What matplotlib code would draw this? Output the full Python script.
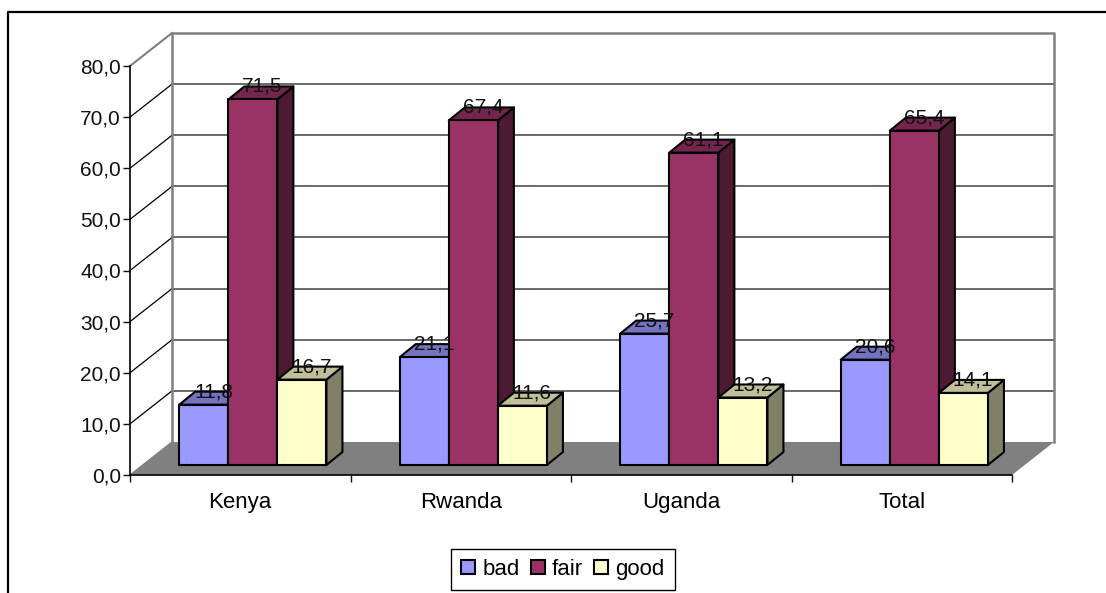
"""Clustered column chart with a hand-built 3D look (Excel style)."""

import matplotlib
matplotlib.use("Agg")
import matplotlib.pyplot as plt
from matplotlib.lines import Line2D
from matplotlib.patches import Patch, Polygon

W, H = 1106, 593
plt.rcParams["font.family"] = ["Liberation Sans", "DejaVu Sans"]

categories = ["Kenya", "Rwanda", "Uganda", "Total"]
bad = [11.8, 21.1, 25.7, 20.6]
fair = [71.5, 67.4, 61.1, 65.4]
good = [16.7, 11.6, 13.2, 14.1]
y_ticks = [0, 10, 20, 30, 40, 50, 60, 70, 80]

# (front, top, side) shades per series
SERIES = [
    ("bad", bad, "#9999ff", "#7373bf", "#5c5c99"),
    ("fair", fair, "#993366", "#73264d", "#4d1a33"),
    ("good", good, "#ffffcc", "#bfbf99", "#808066"),
]

# plot box of the front plane, in pixels
LEFT, RIGHT, TOP, BOTTOM = 130, 1012, 66, 475
PX = 4 / (RIGHT - LEFT)      # x data units per pixel
PY = 80 / (BOTTOM - TOP)     # y data units per pixel

WALL = (42 * PX, 33 * PY)    # offset of the back wall
FRONT = (12.5 * PX, 10 * PY) # offset of the bar front faces
DEPTH = (16 * PX, 13 * PY)   # depth of a bar
BAR_W = 0.2225
FONT = 15


def poly(ax, pts, face, edge="black", lw=1.5, z=2):
    ax.add_patch(Polygon(pts, closed=True, facecolor=face, edgecolor=edge,
                         linewidth=lw, joinstyle="round", zorder=z, clip_on=False))


def draw_walls(ax):
    wx, wy = WALL
    poly(ax, [(0, 0), (4, 0), (4 + wx, wy), (wx, wy)], "#808080", edge="none", z=1)
    for v in y_ticks[1:-1]:
        ax.plot([wx, 4 + wx], [v + wy, v + wy], color="#404040", lw=1.1, zorder=1, clip_on=False)
        ax.plot([0, wx], [v, v + wy], color="black", lw=0.9, zorder=1, clip_on=False)
    ax.plot([0, wx], [0, wy], color="#808080", lw=1, zorder=1, clip_on=False)
    ax.plot([0, wx], [80, 80 + wy], color="#808080", lw=1.5, zorder=1, clip_on=False)
    ax.plot([wx, wx, 4 + wx, 4 + wx], [wy, 80 + wy, 80 + wy, wy],
            color="#808080", lw=1.8, zorder=1, clip_on=False)


def draw_bar(ax, x, value, front, top, side):
    x0 = x + FRONT[0]
    x1 = x0 + BAR_W
    y0 = FRONT[1]
    y1 = value + FRONT[1]
    dx, dy = DEPTH
    poly(ax, [(x1, y0), (x1 + dx, y0 + dy), (x1 + dx, y1 + dy), (x1, y1)], side)
    poly(ax, [(x0, y1), (x1, y1), (x1 + dx, y1 + dy), (x0 + dx, y1 + dy)], top)
    poly(ax, [(x0, y0), (x1, y0), (x1, y1), (x0, y1)], front)
    ax.text((x0 + x1) / 2 + dx * 0.6, y1 + dy, f"{value:.1f}".replace(".", ","),
            ha="center", va="center", fontsize=FONT, color="#111111", zorder=5)


def main():
    fig = plt.figure(figsize=(W / 100, H / 100), dpi=100)
    ax = fig.add_axes([LEFT / W, 1 - BOTTOM / H, (RIGHT - LEFT) / W, (BOTTOM - TOP) / H])
    ax.set_xlim(0, 4)
    ax.set_ylim(0, 80)
    ax.patch.set_visible(False)
    for s in ("top", "right"):
        ax.spines[s].set_visible(False)
    for s in ("left", "bottom"):
        ax.spines[s].set_linewidth(1.2)
        ax.spines[s].set_zorder(3)

    draw_walls(ax)
    for i in range(len(categories)):
        x = i + 1 / 6
        for j, (_, vals, front, top, side) in enumerate(SERIES):
            draw_bar(ax, x + j * BAR_W, vals[i], front, top, side)

    ax.set_yticks(y_ticks, [f"{v:.1f}".replace(".", ",") for v in y_ticks], fontsize=FONT)
    ax.set_xticks(range(5), [""] * 5)
    ax.set_xticks([i + 0.5 for i in range(4)], categories, minor=True, fontsize=16)
    ax.tick_params(axis="x", which="minor", length=0, pad=12.5)
    ax.tick_params(axis="x", which="major", length=5, width=1.0)
    ax.tick_params(axis="y", which="major", length=5, width=1.0, pad=1.5)
    ax.tick_params(colors="#111111")

    handles = [Patch(facecolor=s[2], edgecolor="black", linewidth=1.5) for s in SERIES]
    leg = fig.legend(handles, [s[0] for s in SERIES], loc="center", ncol=3,
                     bbox_to_anchor=(563 / W, 1 - 569.5 / H), fontsize=16,
                     fancybox=False, framealpha=1, edgecolor="black",
                     handlelength=0.63, handleheight=0.63, handletextpad=0.32,
                     columnspacing=0.5, borderpad=0.45, borderaxespad=0)
    leg.get_frame().set_linewidth(1.0)

    # outer chart border, open at the bottom and right where the image ends
    fig.add_artist(Line2D([8 / W, 8 / W, 1], [0, 1 - 12 / H, 1 - 12 / H],
                          color="black", lw=1.6))
    fig.savefig("out.png", dpi=100)


if __name__ == "__main__":
    main()
